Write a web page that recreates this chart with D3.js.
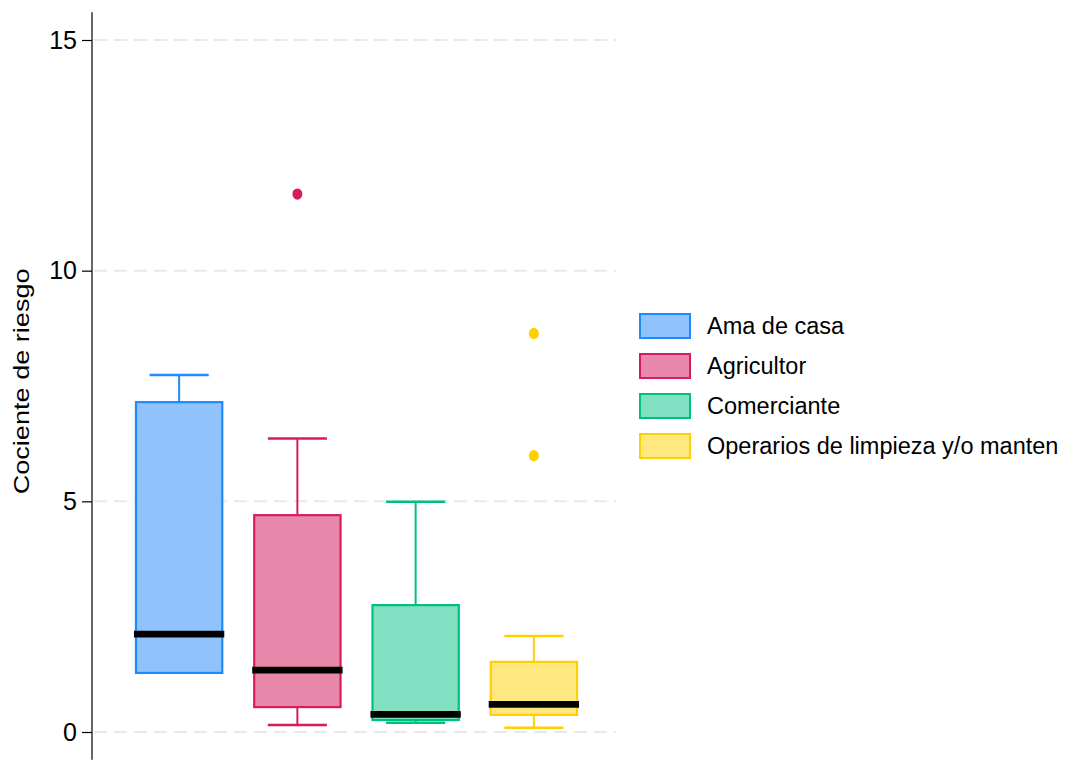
<!DOCTYPE html>
<html>
<head>
<meta charset="utf-8">
<script src="https://cdn.jsdelivr.net/npm/d3@7"></script>
<style>
  body { margin: 0; background: #fff; }
  svg { display: block; font-family: "Liberation Sans", Arial, sans-serif; }
</style>
</head>
<body>
<div id="chart"></div>
<script>
// box plot data
var categories = ['Ama de casa', 'Agricultor', 'Comerciante', 'Operarios de limpieza y/o manten'];
var whiskerLow = [1.28, 0.15, 0.20, 0.09];
var q1 = [1.28, 0.54, 0.26, 0.37];
var median = [2.12, 1.34, 0.38, 0.60];
var q3 = [7.15, 4.70, 2.75, 1.52];
var whiskerHigh = [7.74, 6.36, 4.99, 2.08];
var outliers = [[], [11.66], [], [8.64, 5.99]];
var yTicks = [0, 5, 10, 15];

var strokeColors = ['#1E8AFF', '#D81B60', '#00C080', '#FFD000'];
var fillColors = ['#90C2FC', '#E889AB', '#81E0C2', '#FFE880'];

var width = 1072, height = 760;

var svg = d3.select('#chart').append('svg')
    .attr('width', width)
    .attr('height', height);

var x = d3.scaleBand()
    .domain(categories)
    .range([120, 593])
    .padding(0);

var y = d3.scaleLinear()
    .domain([0, 15])
    .range([732, 40]);

var axisX = 92;

// dashed grid
svg.selectAll('line.grid')
    .data(yTicks)
    .enter()
    .append('line')
    .attr('class', 'grid')
    .attr('x1', axisX + 2)
    .attr('x2', 616)
    .attr('y1', function (d) { return y(d); })
    .attr('y2', function (d) { return y(d); })
    .style('stroke', '#E9E9E9')
    .style('stroke-width', 2)
    .style('stroke-dasharray', '13,7');

// y axis
var yAxis = svg.append('g')
    .attr('transform', 'translate(' + axisX + ',0)')
    .call(d3.axisLeft(y).tickValues(yTicks).tickSize(10).tickPadding(5));
yAxis.select('.domain').remove();
yAxis.selectAll('.tick line').style('stroke', '#000').style('stroke-width', 1.2);
yAxis.selectAll('.tick text')
    .style('font-size', '25px')
    .style('font-family', '"Liberation Sans", Arial, sans-serif')
    .style('fill', '#000');

svg.append('line')
    .attr('x1', axisX).attr('x2', axisX)
    .attr('y1', y(15.6)).attr('y2', y(-0.6))
    .style('stroke', '#000')
    .style('stroke-width', 1.2);

svg.append('text')
    .attr('transform', 'translate(29,' + y(7.6) + ') rotate(-90)')
    .attr('text-anchor', 'middle')
    .attr('textLength', 226)
    .attr('lengthAdjust', 'spacingAndGlyphs')
    .style('font-size', '22px')
    .text('Cociente de riesgo');

// boxes
var step = x.bandwidth();
var boxW = step * 0.73;
var capW = step * 0.5;

var groups = svg.selectAll('g.box')
    .data(categories)
    .enter()
    .append('g')
    .attr('class', 'box');

groups.each(function (cat, i) {
    var g = d3.select(this);
    var cx = x(cat) + step / 2;
    var sc = strokeColors[i];

    // whiskers
    if (whiskerHigh[i] > q3[i]) {
        g.append('line')
            .attr('x1', cx).attr('x2', cx)
            .attr('y1', y(q3[i])).attr('y2', y(whiskerHigh[i]))
            .style('stroke', sc).style('stroke-width', 2);
        g.append('line')
            .attr('x1', cx - capW / 2).attr('x2', cx + capW / 2)
            .attr('y1', y(whiskerHigh[i])).attr('y2', y(whiskerHigh[i]))
            .style('stroke', sc).style('stroke-width', 2.5);
    }
    if (whiskerLow[i] < q1[i]) {
        g.append('line')
            .attr('x1', cx).attr('x2', cx)
            .attr('y1', y(q1[i])).attr('y2', y(whiskerLow[i]))
            .style('stroke', sc).style('stroke-width', 2);
        g.append('line')
            .attr('x1', cx - capW / 2).attr('x2', cx + capW / 2)
            .attr('y1', y(whiskerLow[i])).attr('y2', y(whiskerLow[i]))
            .style('stroke', sc).style('stroke-width', 2.5);
    }

    // box
    g.append('rect')
        .attr('x', cx - boxW / 2)
        .attr('width', boxW)
        .attr('y', y(q3[i]))
        .attr('height', y(q1[i]) - y(q3[i]))
        .style('fill', fillColors[i])
        .style('stroke', sc)
        .style('stroke-width', 2.2);

    // median
    g.append('line')
        .attr('x1', cx - boxW / 2 - 2).attr('x2', cx + boxW / 2 + 2)
        .attr('y1', y(median[i])).attr('y2', y(median[i]))
        .style('stroke', '#000')
        .style('stroke-width', 6.7);

    // outliers
    g.selectAll('ellipse')
        .data(outliers[i])
        .enter()
        .append('ellipse')
        .attr('cx', cx)
        .attr('cy', function (d) { return y(d); })
        .attr('rx', 5)
        .attr('ry', 5.7)
        .style('fill', sc);
});

// legend
var legend = svg.selectAll('g.legend')
    .data(categories)
    .enter()
    .append('g')
    .attr('class', 'legend')
    .attr('transform', function (d, i) { return 'translate(640,' + (314 + i * 40) + ')'; });

legend.append('rect')
    .attr('width', 50)
    .attr('height', 24)
    .style('fill', function (d, i) { return fillColors[i]; })
    .style('stroke', function (d, i) { return strokeColors[i]; })
    .style('stroke-width', 2);

legend.append('text')
    .attr('x', 67)
    .attr('y', 20)
    .style('font-size', '23.5px')
    .text(function (d) { return d; });
</script>
</body>
</html>
